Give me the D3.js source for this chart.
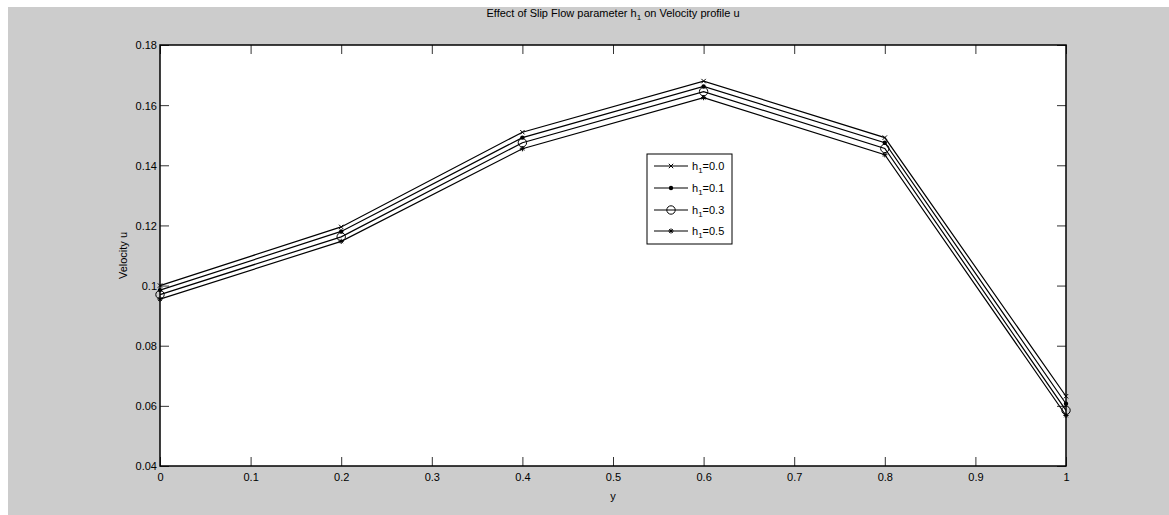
<!DOCTYPE html>
<html>
<head>
<meta charset="utf-8">
<script src="https://cdn.jsdelivr.net/npm/d3@7"></script>
<style>
  html, body { margin: 0; padding: 0; background: #ffffff; }
  svg { display: block; }
  text { font-family: "Liberation Sans", Arial, Helvetica, sans-serif; fill: #000; }
</style>
</head>
<body>
<svg id="chart" width="1169" height="515"></svg>
<script>
// Velocity profile u(y) for several slip flow parameters h1
const yPositions = [0, 0.2, 0.4, 0.6, 0.8, 1.0];
const h1Labels = ["0.0", "0.1", "0.3", "0.5"];
const u_h0 = [0.1000, 0.1195, 0.1510, 0.1680, 0.1492, 0.0632];
const u_h1 = [0.0985, 0.1180, 0.1492, 0.1662, 0.1475, 0.0607];
const u_h3 = [0.0970, 0.1162, 0.1475, 0.1645, 0.1456, 0.0585];
const u_h5 = [0.0955, 0.1147, 0.1455, 0.1625, 0.1435, 0.0568];
const markerKinds = ["x", "dot", "circle", "star"];

const xTicks = [0, 0.1, 0.2, 0.3, 0.4, 0.5, 0.6, 0.7, 0.8, 0.9, 1];
const yTicks = [0.04, 0.06, 0.08, 0.1, 0.12, 0.14, 0.16, 0.18];

const series = [u_h0, u_h1, u_h3, u_h5].map((vals, i) => ({
  label: h1Labels[i],
  marker: markerKinds[i],
  points: yPositions.map((y, j) => ({ x: y, v: vals[j] }))
}));

const svg = d3.select("#chart");
const W = 1169, H = 515;
const plot = { left: 160, right: 1066, top: 45, bottom: 466 };

// figure background
svg.append("rect").attr("x", 8).attr("y", 7).attr("width", W - 8).attr("height", H - 7)
  .attr("fill", "#cccccc");
// axes background
svg.append("rect").attr("x", plot.left).attr("y", plot.top)
  .attr("width", plot.right - plot.left).attr("height", plot.bottom - plot.top)
  .attr("fill", "#ffffff");

const x = d3.scaleLinear().domain([0, 1]).range([plot.left, plot.right]);
const y = d3.scaleLinear().domain([0.04, 0.18]).range([plot.bottom, plot.top]);

const tickLen = 9;
const fmt = d => String(+d.toFixed(2));

// bottom axis
const gx = svg.append("g").attr("transform", `translate(0,${plot.bottom})`)
  .call(d3.axisBottom(x).tickValues(xTicks).tickFormat(fmt).tickSizeInner(-tickLen).tickSizeOuter(0).tickPadding(7));
// top mirror
const gxt = svg.append("g").attr("transform", `translate(0,${plot.top})`)
  .call(d3.axisTop(x).tickValues(xTicks).tickFormat("").tickSizeInner(-tickLen).tickSizeOuter(0));
// left axis
const gy = svg.append("g").attr("transform", `translate(${plot.left},0)`)
  .call(d3.axisLeft(y).tickValues(yTicks).tickFormat(fmt).tickSizeInner(-tickLen).tickSizeOuter(0).tickPadding(3));
// right mirror
const gyr = svg.append("g").attr("transform", `translate(${plot.right},0)`)
  .call(d3.axisRight(y).tickValues(yTicks).tickFormat("").tickSizeInner(-tickLen).tickSizeOuter(0));

[gx, gxt, gy, gyr].forEach(g => {
  g.select(".domain").remove();
  g.selectAll(".tick line").attr("stroke", "#333").attr("stroke-width", 1);
  g.selectAll("text").attr("font-size", 11).attr("fill", "#000")
    .style("font-family", '"Liberation Sans", Arial, sans-serif');
});
gy.selectAll(".tick text").attr("dy", "0.35em");

// axes box
svg.append("rect").attr("x", plot.left).attr("y", plot.top)
  .attr("width", plot.right - plot.left).attr("height", plot.bottom - plot.top)
  .attr("fill", "none").attr("stroke", "#000").attr("stroke-width", 1.5);

// lines
const line = d3.line().x(d => x(d.x)).y(d => y(d.v));
const gLines = svg.append("g");
series.forEach(s => {
  gLines.append("path").datum(s.points).attr("d", line)
    .attr("fill", "none").attr("stroke", "#000").attr("stroke-width", 1.2);
});

// marker drawing
function drawMarker(g, kind, cx, cy) {
  if (kind === "x") {
    const r = 2.2;
    g.append("path").attr("d", `M${cx - r},${cy - r}L${cx + r},${cy + r}M${cx - r},${cy + r}L${cx + r},${cy - r}`)
      .attr("stroke", "#000").attr("stroke-width", 1).attr("fill", "none");
  } else if (kind === "dot") {
    g.append("circle").attr("cx", cx).attr("cy", cy).attr("r", 2.2).attr("fill", "#000");
  } else if (kind === "circle") {
    g.append("circle").attr("cx", cx).attr("cy", cy).attr("r", 4.2)
      .attr("fill", "none").attr("stroke", "#000").attr("stroke-width", 1);
  } else if (kind === "star") {
    const r = 2.6;
    g.append("path").attr("d",
      `M${cx - r},${cy}L${cx + r},${cy}M${cx},${cy - r}L${cx},${cy + r}` +
      `M${cx - r * 0.7},${cy - r * 0.7}L${cx + r * 0.7},${cy + r * 0.7}M${cx - r * 0.7},${cy + r * 0.7}L${cx + r * 0.7},${cy - r * 0.7}`)
      .attr("stroke", "#000").attr("stroke-width", 1).attr("fill", "none");
  }
}

const gMarks = svg.append("g");
series.forEach(s => {
  s.points.forEach(p => drawMarker(gMarks, s.marker, x(p.x), y(p.v)));
});

// title
const title = svg.append("text").attr("x", (plot.left + plot.right) / 2).attr("y", 17)
  .attr("text-anchor", "middle").attr("font-size", 11);
title.append("tspan").text("Effect of Slip Flow parameter h");
title.append("tspan").attr("font-size", 8).attr("dy", 3).text("1");
title.append("tspan").attr("dy", -3).text(" on Velocity profile u");

// axis labels
svg.append("text").attr("x", (plot.left + plot.right) / 2).attr("y", 500)
  .attr("text-anchor", "middle").attr("font-size", 11).text("y");
svg.append("text").attr("transform", `translate(127,${(plot.top + plot.bottom) / 2}) rotate(-90)`)
  .attr("text-anchor", "middle").attr("font-size", 11).text("Velocity u");

// legend
const leg = { x: 647, y: 154, w: 85, h: 90 };
const gLeg = svg.append("g");
gLeg.append("rect").attr("x", leg.x).attr("y", leg.y).attr("width", leg.w).attr("height", leg.h)
  .attr("fill", "#fff").attr("stroke", "#000").attr("stroke-width", 1);
const legRows = [166, 188, 210, 231];
series.forEach((s, i) => {
  const ry = legRows[i];
  gLeg.append("line").attr("x1", 654).attr("x2", 688).attr("y1", ry).attr("y2", ry)
    .attr("stroke", "#000").attr("stroke-width", 1.2);
  drawMarker(gLeg, s.marker, 671, ry);
  const t = gLeg.append("text").attr("x", 692).attr("y", ry + 4).attr("font-size", 11);
  t.append("tspan").text("h");
  t.append("tspan").attr("font-size", 8).attr("dy", 3).text("1");
  t.append("tspan").attr("dy", -3).text("=" + s.label);
});
</script>
</body>
</html>
